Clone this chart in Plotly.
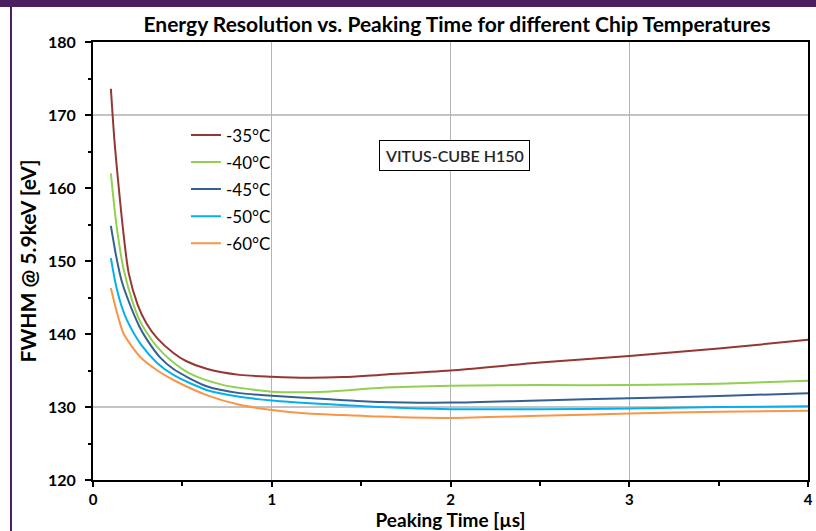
import plotly.graph_objects as go

series_names = ["-35°C", "-40°C", "-45°C", "-50°C", "-60°C"]
series_colors = ["#953735", "#92D050", "#376092", "#00B0F0", "#F79646"]

x_m35 = [0.1, 0.12, 0.14, 0.17, 0.2, 0.25, 0.3, 0.36, 0.45, 0.52, 0.64, 0.82, 1.0, 1.2, 1.4, 1.6, 2.0, 2.5, 3.0, 3.5, 4.0]
y_m35 = [173.6, 166.5, 161.1, 153.9, 148.3, 144.0, 141.4, 139.4, 137.4, 136.3, 135.2, 134.4, 134.15, 134.0, 134.1, 134.4, 135.0, 136.1, 137.0, 138.0, 139.2]

x_m40 = [0.1, 0.13, 0.17, 0.22, 0.26, 0.3, 0.36, 0.43, 0.54, 0.73, 0.92, 1.0, 1.3, 1.6, 2.0, 2.5, 3.0, 3.5, 4.0]
y_m40 = [162.0, 155.2, 149.0, 144.5, 141.9, 140.2, 138.2, 136.5, 134.6, 133.0, 132.3, 132.1, 132.1, 132.6, 132.9, 133.0, 133.0, 133.2, 133.6]

x_m45 = [0.1, 0.13, 0.16, 0.19, 0.26, 0.3, 0.375, 0.45, 0.64, 0.82, 1.0, 1.3, 1.6, 2.0, 2.5, 3.0, 3.5, 4.0]
y_m45 = [154.8, 150.6, 147.3, 145.1, 141.0, 139.3, 136.8, 135.2, 132.8, 131.9, 131.55, 131.1, 130.7, 130.6, 130.9, 131.2, 131.5, 131.9]

x_m50 = [0.1, 0.13, 0.16, 0.19, 0.27, 0.36, 0.45, 0.64, 0.82, 1.0, 1.3, 1.6, 2.0, 2.5, 3.0, 3.5, 4.0]
y_m50 = [150.4, 146.5, 143.8, 141.9, 138.5, 136.0, 134.4, 132.3, 131.4, 130.9, 130.4, 130.0, 129.7, 129.7, 129.8, 130.0, 130.1]

x_m60 = [0.1, 0.13, 0.17, 0.22, 0.27, 0.36, 0.45, 0.64, 0.82, 1.0, 1.2, 1.4, 1.6, 2.0, 2.5, 3.0, 3.5, 4.0]
y_m60 = [146.3, 143.3, 140.1, 138.2, 136.7, 135.0, 133.7, 131.6, 130.3, 129.6, 129.1, 128.9, 128.7, 128.5, 128.8, 129.1, 129.35, 129.5]

xs = [x_m35, x_m40, x_m45, x_m50, x_m60]
ys = [y_m35, y_m40, y_m45, y_m50, y_m60]

y_gridlines = [130, 170]

FONT = "Lato"
PURPLE = "#4B1F5E"

fig = go.Figure()
for i, (name, color, x, y) in enumerate(zip(series_names, series_colors, xs, ys)):
    fig.add_trace(go.Scatter(
        x=x, y=y, name=name, mode="lines",
        line=dict(color=color, width=2, shape="spline", smoothing=0.8),
        legendgroup=f"g{i}",
    ))

for gy in y_gridlines:
    fig.add_hline(y=gy, line=dict(color="#888888", width=1), layer="below")

fig.update_layout(
    width=816, height=531,
    margin=dict(l=93, r=8, t=42, b=51, autoexpand=False),
    paper_bgcolor="white", plot_bgcolor="white",
    font=dict(family=FONT, color="black"),
    title=dict(
        text="Energy Resolution vs. Peaking Time for different Chip Temperatures",
        font=dict(family=FONT, size=21, weight="bold", color="black"),
        x=0.56, xanchor="center", y=1 - 25 / 531, yanchor="middle",
    ),
    showlegend=True,
    legend=dict(
        x=0.13, y=0.828, xanchor="left", yanchor="top",
        bgcolor="rgba(0,0,0,0)", font=dict(family=FONT, size=17, color="black"),
        tracegroupgap=2, itemwidth=30,
    ),
    xaxis=dict(
        range=[0, 4], dtick=1, tick0=0, automargin=False,
        showgrid=True, gridcolor="#B4B4B4", gridwidth=1,
        showline=True, linecolor="black", linewidth=2, mirror=True,
        ticks="outside", ticklen=5, tickwidth=2, tickcolor="black",
        minor=dict(dtick=0.5, ticks="outside", ticklen=4, tickwidth=2, tickcolor="black", showgrid=False),
        tickfont=dict(family=FONT, size=15, weight="bold", color="black"),
        ticklabelstandoff=0,
        zeroline=False,
        title=dict(text="Peaking Time [µs]", font=dict(family=FONT, size=19, weight="bold", color="black"), standoff=4),
    ),
    yaxis=dict(
        range=[120, 180], dtick=10, tick0=120, automargin=False,
        showgrid=False,
        showline=True, linecolor="black", linewidth=2, mirror=True,
        ticks="outside", ticklen=6, tickwidth=2, tickcolor="black",
        minor=dict(dtick=5, ticks="outside", ticklen=3, tickwidth=2, tickcolor="black", showgrid=False),
        tickfont=dict(family=FONT, size=16, weight="bold", color="black"),
        ticklabelstandoff=6,
        zeroline=False,
        title=dict(text="FWHM @ 5.9keV [eV]", font=dict(family=FONT, size=21, weight="bold", color="black"), standoff=6),
    ),
)

fig.add_annotation(
    text="VITUS-CUBE H150", xref="paper", yref="paper",
    x=(454.5 - 93) / 715, y=(480 - 155) / 438, xanchor="center", yanchor="middle",
    showarrow=False, font=dict(family=FONT, size=16, color="#262626", weight=600),
    bordercolor="black", borderwidth=1, borderpad=5, bgcolor="white",
)

# purple frame band at top and thin line on left
fig.add_shape(type="rect", xref="paper", yref="paper",
              x0=-93 / 715, x1=(816 - 93) / 715, y0=(480 - 7) / 438, y1=480 / 438 + 0.01,
              fillcolor=PURPLE, line=dict(width=0), layer="above")
fig.add_shape(type="rect", xref="paper", yref="paper",
              x0=(10 - 93) / 715, x1=(12 - 93) / 715, y0=(480 - 531) / 438 - 0.01, y1=(480 - 7) / 438,
              fillcolor=PURPLE, line=dict(width=0), layer="above")

fig.write_html("out.html", config={"displayModeBar": False},
               post_script="document.body.style.margin='0';")
